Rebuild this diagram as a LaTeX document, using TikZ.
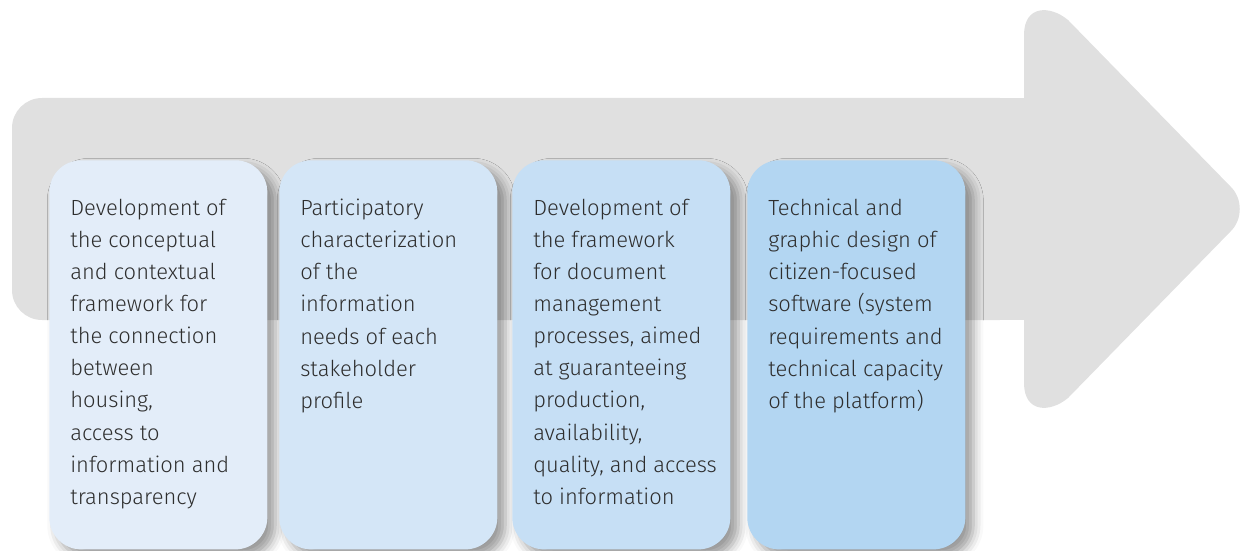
\documentclass[tikz,border=0pt]{standalone}
\usepackage{fontspec}
\setmainfont{Fira Sans Light}
\usetikzlibrary{shadows.blur}

\definecolor{cinzaseta}{HTML}{E0E0E0}
\definecolor{texto}{HTML}{2E2E2E}
\definecolor{azulA}{HTML}{E3EDF9}
\definecolor{azulB}{HTML}{D4E6F7}
\definecolor{azulC}{HTML}{C6DFF5}
\definecolor{azulD}{HTML}{B3D6F2}

\tikzset{
	etapa/.style={rounded corners=0.8cm, inner xsep=0.525cm, inner ysep=0.975cm,
		anchor=north west, text=texto, font=\fontsize{15.6}{22.8}\selectfont,
		blur shadow={shadow xshift=0.2cm, shadow yshift=-0.2cm,
			shadow blur radius=0.25cm, shadow opacity=40}}
}
\newcommand{\caixa}[1]{\parbox[t][7.775cm][t]{4.4cm}{\raggedright\hbadness=10000 #1}}

\begin{document}
\begin{tikzpicture}[x=0.025cm,y=-0.025cm]
		\useasboundingbox (0,0) rectangle (1241,551);
		
		% Seta
		\fill[cinzaseta, rounded corners=0.75cm] (12,98) rectangle (1030,320);	% Haste
		\fill[cinzaseta] (900,98) rectangle (1030,320);
		\fill[cinzaseta] (1024,209) -- (1024,35) .. controls (1024,5) and (1050,5) .. (1068,20)
			-- (1230,186) .. controls (1243,198) and (1243,220) .. (1230,232)
			-- (1068,398) .. controls (1050,413) and (1024,413) .. (1024,383) -- cycle;	% Ponta
		
		% Etapas
		\node[etapa, fill=azulA] (e1) at (49,160) {\caixa{Development of\\ the conceptual\\ and contextual\\ framework for\\ the connection\\ between\\ housing,\\ access to\\ information and\\ transparency}};
		\node[etapa, fill=azulB] (e2) at (279,160) {\caixa{Participatory\\ characterization\\ of the\\ information\\ needs of each\\ stakeholder\\ profile}};
		\node[etapa, fill=azulC] (e3) at (512,160) {\caixa{Development of\\ the framework\\ for document\\ management\\ processes, aimed\\ at guaranteeing\\ production,\\ availability,\\ \mbox{quality, and access}\\ to information}};
		\node[etapa, fill=azulD] (e4) at (747,160) {\caixa{Technical and\\ graphic design of\\ citizen-focused\\ software (system\\ requirements and\\ technical capacity\\ of the platform)}};
	\end{tikzpicture}
\end{document}
